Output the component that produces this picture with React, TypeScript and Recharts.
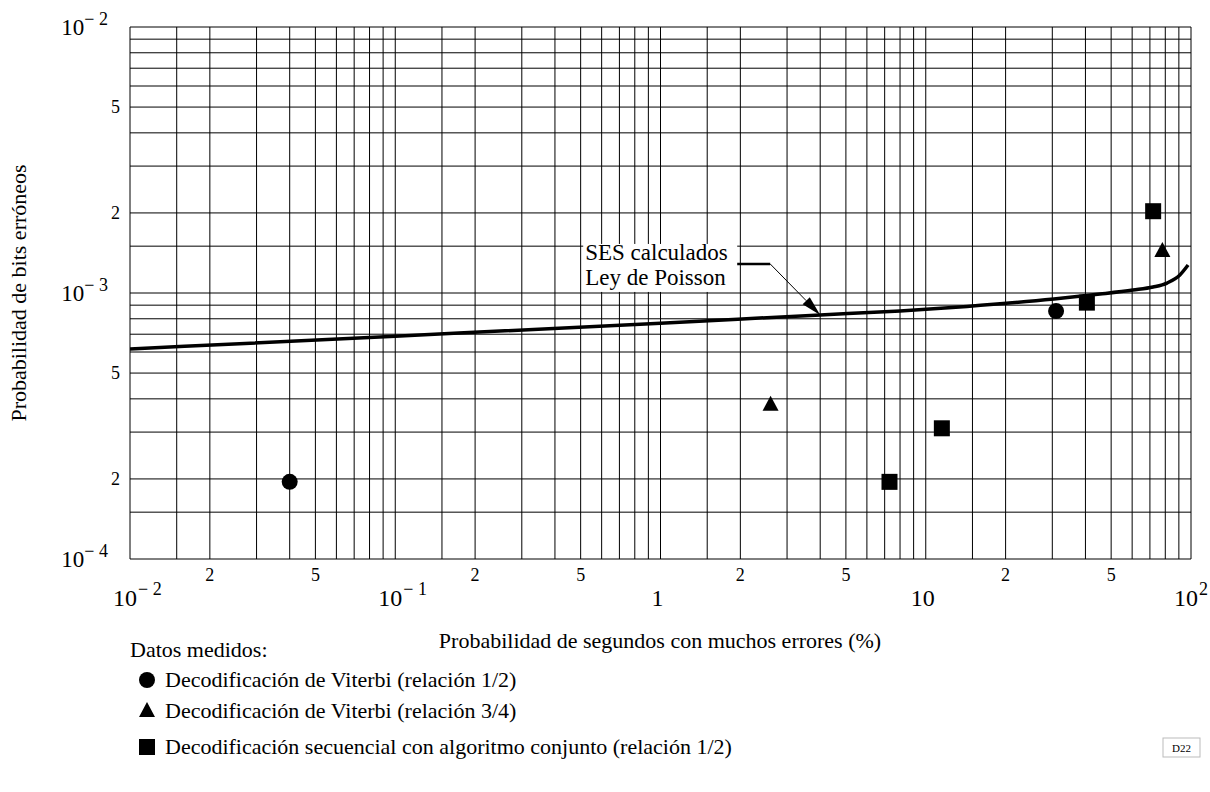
import {
  ComposedChart,
  XAxis,
  YAxis,
  CartesianGrid,
  Line,
  Scatter,
  ReferenceDot,
} from "recharts";

const FONT = '"Liberation Serif", "Times New Roman", serif';

// Líneas de la rejilla logarítmica (en cada década)
const GRID_MANTISSAS = [1, 1.5, 2, 3, 4, 5, 6, 7, 8, 9];
const LABELED_MANTISSAS = [2, 5];
const X_DECADES = [0.01, 0.1, 1, 10];
const Y_DECADES = [1e-4, 1e-3];

const X_TICKS = [
  ...X_DECADES.flatMap((d) => GRID_MANTISSAS.map((m) => +(m * d).toPrecision(3))),
  100,
];
const Y_TICKS = [
  ...Y_DECADES.flatMap((d) => GRID_MANTISSAS.map((m) => +(m * d).toPrecision(3))),
  1e-2,
];

// Curva SES calculados (Ley de Poisson)
const POISSON_X = [0.01, 0.1, 1, 4, 8, 14.3, 30.4, 45.4, 60.4, 71.9, 81.2, 90.8, 97.5];
const POISSON_Y = [
  6.16e-4, 6.88e-4, 7.7e-4, 8.27e-4, 8.56e-4, 8.9e-4, 9.49e-4, 9.91e-4, 1.026e-3,
  1.053e-3, 1.09e-3, 1.169e-3, 1.274e-3,
];

// Datos medidos
const VITERBI_12_X = [0.04, 31];
const VITERBI_12_Y = [1.95e-4, 8.55e-4];
const VITERBI_34_X = [2.6, 78];
const VITERBI_34_Y = [3.8e-4, 1.44e-3];
const SEQUENTIAL_X = [7.3, 11.5, 40.5, 72];
const SEQUENTIAL_Y = [1.95e-4, 3.1e-4, 9.2e-4, 2.03e-3];

const ANNOTATION_X = 4;
const ANNOTATION_Y = 8.27e-4;

const toPoints = (xs: number[], ys: number[]) => xs.map((x, i) => ({ x, y: ys[i] }));

const poissonData = toPoints(POISSON_X, POISSON_Y);
const viterbi12 = toPoints(VITERBI_12_X, VITERBI_12_Y);
const viterbi34 = toPoints(VITERBI_34_X, VITERBI_34_Y);
const sequential = toPoints(SEQUENTIAL_X, SEQUENTIAL_Y);

const splitValue = (v: number) => {
  const exp = Math.floor(Math.log10(v) + 1e-9);
  const mant = Math.round((v / Math.pow(10, exp)) * 100) / 100;
  return { exp, mant };
};

const supText = (exp: number) => (exp < 0 ? `\u2212 ${-exp}` : `${exp}`);

const XTick = (props: any) => {
  const { x, y, payload } = props;
  const { exp, mant } = splitValue(payload.value);
  if (mant === 1) {
    if (exp === 0 || exp === 1) {
      return (
        <text x={x - 3} y={y + 47} textAnchor="middle" fontSize={24} fontFamily={FONT}>
          {exp === 0 ? "1" : "10"}
        </text>
      );
    }
    return (
      <g>
        <text x={x - 5} y={y + 47} textAnchor="middle" fontSize={24} fontFamily={FONT}>
          10
        </text>
        <text x={x + 8} y={y + 36} fontSize={18} fontFamily={FONT}>
          {supText(exp)}
        </text>
      </g>
    );
  }
  if (LABELED_MANTISSAS.includes(mant)) {
    return (
      <text x={x} y={y + 22} textAnchor="middle" fontSize={18} fontFamily={FONT}>
        {mant}
      </text>
    );
  }
  return <g />;
};

const YTick = (props: any) => {
  const { x, y, payload } = props;
  const { exp, mant } = splitValue(payload.value);
  if (mant === 1) {
    return (
      <text x={x - 22} y={y + 8} textAnchor="end" fontSize={23} fontFamily={FONT}>
        <tspan>10</tspan>
        <tspan dy={-10} fontSize={18}>
          {supText(exp)}
        </tspan>
      </text>
    );
  }
  if (LABELED_MANTISSAS.includes(mant)) {
    return (
      <text x={x - 10} y={y + 6} textAnchor="end" fontSize={18} fontFamily={FONT}>
        {mant}
      </text>
    );
  }
  return <g />;
};

const CircleShape = (props: any) => <circle cx={props.cx} cy={props.cy} r={8} fill="#000" />;

const SquareShape = (props: any) => (
  <rect x={props.cx - 8} y={props.cy - 8} width={16} height={16} fill="#000" />
);

const TriangleShape = (props: any) => (
  <polygon
    points={`${props.cx},${props.cy - 9} ${props.cx + 8},${props.cy + 6} ${props.cx - 8},${props.cy + 6}`}
    fill="#000"
  />
);

// Recuadro "SES calculados / Ley de Poisson" con flecha hacia la curva
const PoissonNote = (props: any) => {
  const { cx, cy } = props;
  const elbowX = cx - 50;
  const elbowY = cy - 51;
  const ang = Math.atan2(cy - elbowY, cx - elbowX);
  const len = 20;
  const half = 5;
  const bx = cx - len * Math.cos(ang);
  const by = cy - len * Math.sin(ang);
  const px = -Math.sin(ang) * half;
  const py = Math.cos(ang) * half;
  return (
    <g>
      <rect x={cx - 237} y={cy - 71} width={154} height={48} fill="#fff" />
      <text x={cx - 235} y={cy - 55} fontSize={23} fontFamily={FONT}>
        SES calculados
      </text>
      <text x={cx - 235} y={cy - 30} fontSize={23} fontFamily={FONT}>
        Ley de Poisson
      </text>
      <line x1={cx - 83} y1={elbowY} x2={elbowX} y2={elbowY} stroke="#000" strokeWidth={2.5} />
      <line x1={elbowX} y1={elbowY} x2={bx} y2={by} stroke="#000" strokeWidth={1} />
      <polygon points={`${cx},${cy} ${bx + px},${by + py} ${bx - px},${by - py}`} fill="#000" />
    </g>
  );
};

const LEGEND_ITEMS = [
  { label: "Decodificación de Viterbi (relación 1/2)", symbol: "circle", y: 680 },
  { label: "Decodificación de Viterbi (relación 3/4)", symbol: "triangle", y: 711 },
  {
    label: "Decodificación secuencial con algoritmo conjunto (relación 1/2)",
    symbol: "square",
    y: 747,
  },
];

const LegendSymbol = ({ symbol, x, y }: { symbol: string; x: number; y: number }) => {
  if (symbol === "circle") return <CircleShape cx={x} cy={y} />;
  if (symbol === "triangle") return <TriangleShape cx={x} cy={y} />;
  return <SquareShape cx={x} cy={y} />;
};

const App = () => {
  return (
    <div
      style={{
        position: "absolute",
        left: 0,
        top: 0,
        width: 1210,
        height: 792,
        background: "#fff",
      }}
    >
      <ComposedChart
        width={1210}
        height={792}
        margin={{ top: 27, right: 19, bottom: 173, left: 70 }}
      >
        <CartesianGrid stroke="#000" strokeWidth={1} />
        <XAxis
          dataKey="x"
          type="number"
          scale="log"
          domain={[0.01, 100]}
          ticks={X_TICKS}
          interval={0}
          allowDataOverflow
          axisLine={false}
          tickLine={false}
          tickSize={0}
          tickMargin={0}
          height={60}
          tick={XTick}
        />
        <YAxis
          dataKey="y"
          type="number"
          scale="log"
          domain={[1e-4, 1e-2]}
          ticks={Y_TICKS}
          interval={0}
          allowDataOverflow
          axisLine={false}
          tickLine={false}
          tickSize={0}
          tickMargin={0}
          width={60}
          tick={YTick}
        />
        <Line
          data={poissonData}
          dataKey="y"
          type="monotone"
          stroke="#000"
          strokeWidth={3.5}
          dot={false}
          isAnimationActive={false}
        />
        <ReferenceDot
          x={ANNOTATION_X}
          y={ANNOTATION_Y}
          ifOverflow="visible"
          shape={PoissonNote}
        />
        <Scatter data={viterbi12} shape={CircleShape} isAnimationActive={false} />
        <Scatter data={viterbi34} shape={TriangleShape} isAnimationActive={false} />
        <Scatter data={sequential} shape={SquareShape} isAnimationActive={false} />
      </ComposedChart>

      <svg
        width={1210}
        height={792}
        style={{ position: "absolute", left: 0, top: 0, pointerEvents: "none" }}
      >
        <text
          x={18}
          y={293}
          transform="rotate(-90 18 293)"
          textAnchor="middle"
          dominantBaseline="central"
          fontSize={22}
          fontFamily={FONT}
        >
          Probabilidad de bits erróneos
        </text>
        <text x={660} y={648} textAnchor="middle" fontSize={22} fontFamily={FONT}>
          Probabilidad de segundos con muchos errores (%)
        </text>
        <text x={130} y={657} fontSize={22} fontFamily={FONT}>
          Datos medidos:
        </text>
        {LEGEND_ITEMS.map((item) => (
          <g key={item.label}>
            <LegendSymbol symbol={item.symbol} x={147} y={item.y} />
            <text x={165} y={item.y + 7} fontSize={22} fontFamily={FONT}>
              {item.label}
            </text>
          </g>
        ))}
        <rect x={1163} y={738} width={37} height={19} fill="#fff" stroke="#bbb" strokeWidth={1} />
        <text x={1181.5} y={752} textAnchor="middle" fontSize={11} fontFamily={FONT}>
          D22
        </text>
      </svg>
    </div>
  );
};

export default App;
